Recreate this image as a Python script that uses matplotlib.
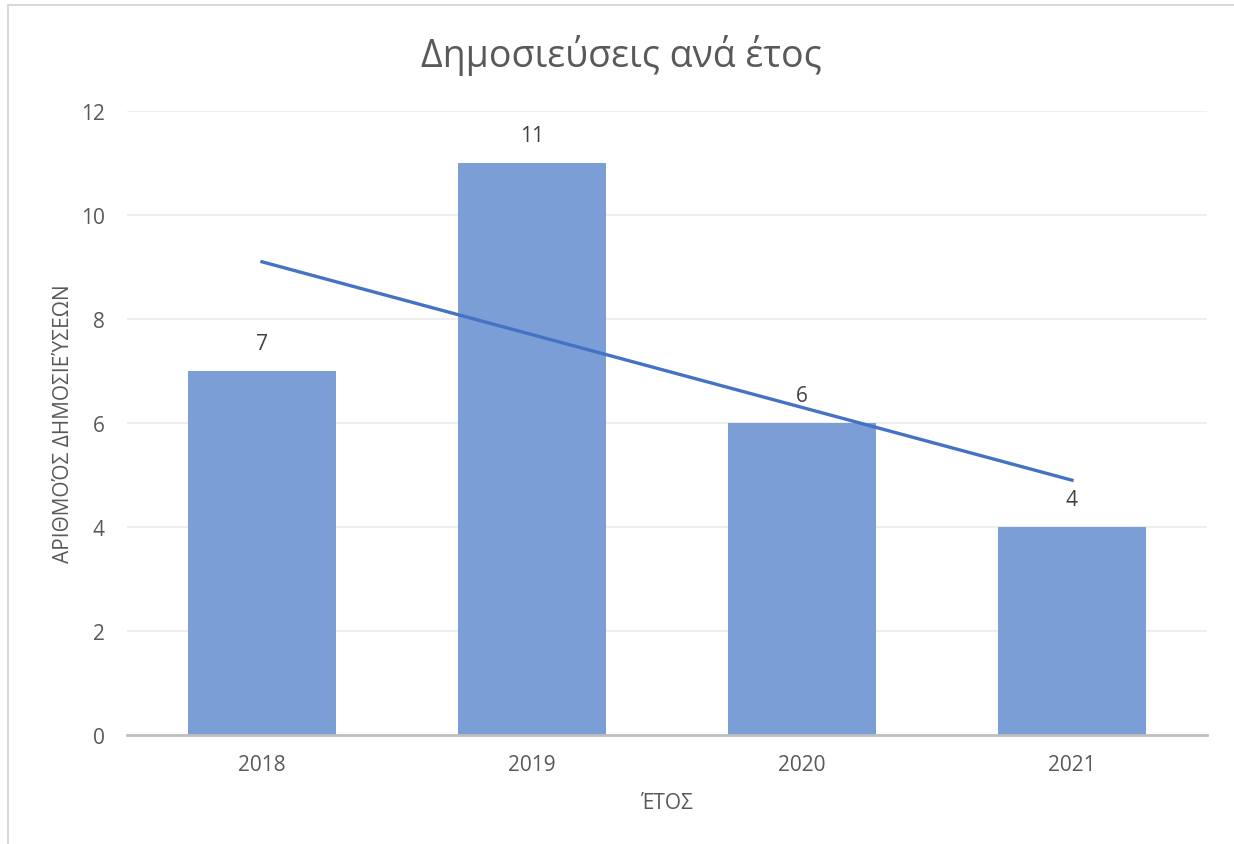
import matplotlib
matplotlib.use('Agg')
import matplotlib.pyplot as plt
import numpy as np
from matplotlib.lines import Line2D

plt.rcParams['font.family'] = ['Open Sans', 'DejaVu Sans']

# data
years = ['2018', '2019', '2020', '2021']
counts = [7, 11, 6, 4]
yticks = [0, 2, 4, 6, 8, 10, 12]

grey = '#595959'
bar_col = '#7C9ED6'
line_col = '#4472C4'

fig = plt.figure(figsize=(12.34, 8.45), dpi=100)
ax = fig.add_axes([127/1234, 1 - 736/845, (1207 - 127)/1234, (736 - 112)/845])

x = np.arange(len(years))
ax.bar(x, counts, width=0.55, color=bar_col, zorder=2)

# linear trend line, fitted from the counts
k, n = np.polyfit(x, counts, 1)
ax.plot(x, k*x + n, color=line_col, lw=2.4, zorder=3)

for xi, c in zip(x, counts):
    ax.text(xi, c + 0.32, str(c), ha='center', va='bottom', fontsize=15, color='#404040')

ax.set_xlim(-0.5, len(years) - 0.5)
ax.set_ylim(0, 12)
ax.set_yticks(yticks)
ax.set_xticks(x)
ax.set_xticklabels(years)
ax.grid(axis='y', color='#EBEBEB', lw=1.2, zorder=0)
ax.set_axisbelow(True)
for s in ['top', 'right', 'left']:
    ax.spines[s].set_visible(False)
ax.spines['bottom'].set_color('#BFBFBF')
ax.spines['bottom'].set_linewidth(2)
ax.spines['bottom'].set_zorder(4)
ax.tick_params(axis='both', length=0, labelsize=15, labelcolor=grey)
ax.tick_params(axis='y', pad=16)
ax.tick_params(axis='x', pad=14)

ax.set_xlabel('ΈΤΟΣ', fontsize=15, color=grey, labelpad=12)
ax.set_ylabel('ΑΡΙΘΜΟΌΣ ΔΗΜΟΣΙΕΎΣΕΩΝ', fontsize=15, color=grey, labelpad=5)

fig.text(621/1234, 1 - 55/845, 'Δημοσιεύσεις ανά έτος', ha='center', va='center',
         fontsize=27, color=grey)

# chart area border (left and top visible)
fig.add_artist(Line2D([8/1234, 8/1234], [0, 1 - 6/845], color='#D9D9D9', lw=1.5))
fig.add_artist(Line2D([8/1234, 1], [1 - 6/845, 1 - 6/845], color='#D9D9D9', lw=1.5))

fig.savefig('out.png', dpi=100)
